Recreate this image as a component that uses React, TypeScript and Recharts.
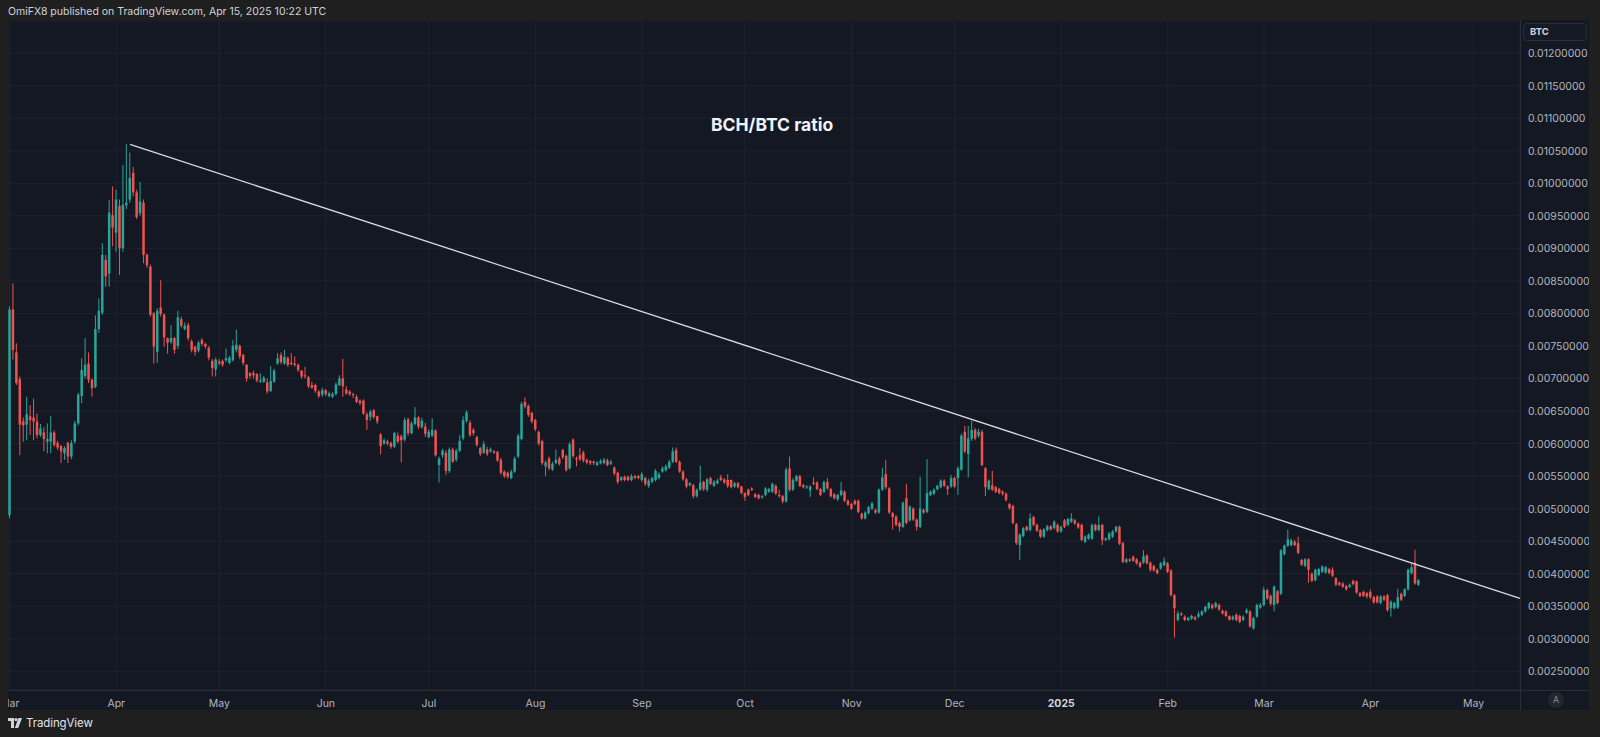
import React from 'react'
import { ComposedChart, Bar, XAxis, YAxis, CartesianGrid, ReferenceLine } from 'recharts'

// prices are stored in units of 0.00001 BTC, one entry per daily candle from 1 Mar 2024
const UNIT = 1e-5
const START_UTC = Date.UTC(2024, 2, 1)

const opens = [
  490, 806, 740, 699, 634, 629, 642, 640, 634, 613,
  617, 603, 603, 617, 601, 596, 585, 601, 580, 603,
  631, 673, 704, 723, 698, 687, 776, 801, 882, 861,
  951, 924, 965, 900, 966, 975, 1016, 986, 954, 970,
  890, 872, 800, 741, 809, 798, 762, 756, 762, 750,
  791, 776, 782, 757, 749, 743, 759, 753, 747, 727,
  714, 726, 727, 728, 724, 728, 744, 750, 736, 721,
  708, 708, 707, 695, 695, 694, 681, 695, 723, 736,
  723, 731, 724, 723, 721, 712, 705, 702, 690, 690,
  680, 675, 682, 673, 672, 676, 690, 700, 683, 680,
  676, 672, 666, 666, 645, 641, 651, 642, 614, 600,
  603, 601, 595, 612, 611, 606, 637, 616, 630, 640,
  625, 626, 610, 612, 620, 567, 582, 586, 558, 591,
  575, 589, 608, 635, 632, 621, 610, 593, 586, 591,
  588, 588, 587, 575, 557, 555, 547, 557, 580, 607,
  664, 658, 647, 636, 618, 604, 565, 577, 560, 570,
  577, 590, 581, 562, 606, 577, 582, 586, 575, 573,
  572, 567, 570, 570, 574, 569, 563, 555, 544, 549,
  549, 544, 550, 550, 544, 547, 535, 541, 544, 547,
  557, 559, 563, 572, 590, 572, 557, 545, 536, 536,
  519, 529, 541, 529, 547, 535, 539, 548, 545, 544,
  544, 534, 539, 534, 524, 529, 531, 522, 521, 517,
  521, 526, 526, 535, 521, 519, 511, 562, 529, 543,
  550, 536,
  533,
  528, 540, 540, 530, 526, 541, 530, 522,
  514, 521, 526, 512, 507, 512, 512, 492, 485, 493,
  500, 498, 494, 529, 553, 531, 493, 488, 478, 472,
  516, 482, 500, 483, 472, 498, 495, 521, 523, 530,
  533, 543, 534,
  534, 547, 547, 560, 618, 584, 607,
  621, 612, 618, 562, 530, 536, 533, 530, 526, 523,
  507, 504, 476, 444, 458, 472, 467, 487, 475, 467,
  457, 467, 473, 470, 475, 465, 482, 475, 480, 482,
  477, 475, 449, 454, 454, 475, 467, 475, 452, 453,
  457, 465, 472, 447, 418, 422, 426, 422, 417, 417,
  428, 417, 412, 406, 408, 413, 416, 405, 367, 329,
  339, 334,
  329,
  331, 333, 334,
  337, 342, 347, 352, 349, 352, 343, 342, 335, 330,
  337, 335, 329, 340, 342, 316, 334, 348, 352, 375,
  366, 352, 373, 369, 430, 443, 444, 449, 447, 421,
  412, 422, 400, 390, 398, 403, 402, 407, 406, 393,
  386, 385, 381, 380, 389, 388, 370, 372, 370, 372,
  364, 365, 355, 365, 367, 347, 347, 348, 369, 366,
  376, 401, 417, 383,
]

const highs = [
  811, 846, 754, 703, 640, 672, 659, 669, 646, 630,
  625, 631, 642, 620, 604, 598, 596, 603, 605, 635,
  678, 731, 762, 740, 700, 797, 823, 908, 890, 974,
  995, 990, 975, 1028, 1060, 1047, 1025, 990, 1002, 975,
  892, 875, 802, 808, 851, 800, 763, 782, 764, 804,
  795, 786, 786, 760, 750, 758, 762, 755, 750, 730,
  732, 730, 729, 746, 735, 759, 775, 752, 738, 722,
  710, 712, 708, 708, 704, 700, 719, 715, 739, 740,
  744, 734, 739, 734, 723, 713, 718, 704, 695, 692,
  682, 686, 684, 680, 679, 694, 705, 730, 688, 682,
  678, 675, 668, 668, 648, 652, 653, 643, 616, 608,
  606, 603, 618, 617, 614, 640, 640, 634, 656, 642,
  640, 632, 622, 639, 622, 580, 592, 590, 594, 594,
  592, 613, 642, 651, 636, 624, 612, 595, 604, 595,
  594, 590, 589, 578, 559, 557, 560, 580, 615, 664,
  671, 660, 649, 638, 620, 606, 574, 580, 572, 591,
  580, 592, 583, 602, 608, 580, 593, 589, 577, 575,
  574, 573, 576, 578, 577, 575, 565, 557, 550, 551,
  551, 553, 552, 552, 556, 549, 546, 549, 561, 556,
  565, 568, 575, 594, 594, 574, 559, 547, 541, 538,
  531, 566, 543, 547, 549, 544, 546, 552, 547, 553,
  545, 541, 541, 535, 525, 531, 533, 524, 523, 521,
  533, 532, 540, 537, 529, 521, 563, 580, 547, 552,
  552, 538,
  536,
  536, 548, 542, 532, 543, 547, 532, 524,
  523, 541, 528, 514, 509, 514, 514, 494, 496, 504,
  510, 500, 531, 563, 575, 533, 495, 490, 480, 511,
  538, 505, 502, 485, 549, 500, 576, 528, 531, 537,
  545, 545, 536,
  552, 549, 565, 615, 627, 627, 635,
  624, 623, 621, 564, 545, 558, 535, 532, 528, 525,
  509, 506, 478, 462, 472, 474, 493, 489, 477, 469,
  470, 475, 475, 482, 477, 474, 484, 486, 493, 484,
  479, 477, 459, 462, 477, 477, 488, 477, 456, 464,
  467, 474, 474, 449, 424, 424, 428, 424, 419, 436,
  430, 419, 414, 408, 418, 425, 418, 407, 369, 343,
  341, 336,
  334,
  337, 335, 342,
  344, 351, 357, 354, 357, 354, 345, 344, 336, 336,
  339, 337, 336, 347, 344, 334, 354, 355, 380, 377,
  368, 382, 375, 438, 445, 468, 454, 452, 457, 423,
  424, 424, 402, 408, 409, 413, 412, 409, 410, 395,
  388, 387, 383, 385, 391, 390, 372, 374, 372, 376,
  366, 367, 367, 367, 369, 359, 357, 377, 371, 378,
  408, 415, 437, 392,
]

const lows = [
  485, 729, 690, 582, 603, 605, 613, 605, 608, 610,
  588, 585, 585, 595, 590, 570, 575, 570, 576, 600,
  628, 662, 700, 693, 672, 685, 770, 798, 841, 841,
  903, 895, 859, 895, 960, 970, 980, 945, 950, 877,
  870, 795, 723, 724, 795, 749, 738, 753, 738, 745,
  778, 774, 758, 740, 735, 740, 750, 746, 728, 703,
  703, 720, 718, 725, 722, 726, 740, 730, 720, 695,
  700, 700, 694, 693, 693, 677, 679, 693, 721, 722,
  721, 718, 720, 718, 710, 700, 700, 685, 684, 678,
  670, 672, 673, 671, 670, 674, 688, 672, 675, 673,
  670, 662, 659, 644, 621, 635, 638, 630, 583, 598,
  597, 592, 593, 600, 571, 603, 612, 614, 628, 622,
  623, 610, 608, 610, 580, 540, 578, 552, 555, 570,
  572, 587, 605, 632, 610, 612, 595, 581, 584, 581,
  586, 584, 572, 552, 547, 546, 545, 555, 578, 605,
  654, 641, 631, 619, 597, 567, 550, 559, 558, 568,
  566, 576, 557, 560, 578, 565, 573, 571, 568, 567,
  567, 565, 568, 568, 565, 567, 551, 538, 542, 542,
  542, 542, 545, 545, 541, 535, 532, 539, 542, 545,
  555, 557, 561, 570, 570, 555, 543, 531, 534, 516,
  517, 527, 527, 526, 536, 533, 537, 542, 538, 532,
  531, 532, 531, 522, 512, 519, 527, 516, 514, 515,
  519, 524, 524, 521, 517, 508, 509, 526, 527, 541,
  533, 531,
  530,
  518, 536, 528, 519, 524, 529, 517, 514,
  512, 519, 510, 504, 498, 505, 493, 483, 483, 491,
  498, 492, 492, 527, 530, 492, 468, 473, 465, 470,
  476, 480, 481, 466, 470, 492, 493, 519, 521, 528,
  531, 533, 521,
  532, 532, 521, 558, 585, 548, 604,
  605, 609, 565, 519, 528, 527, 524, 522, 520, 511,
  498, 476, 444, 421, 456, 465, 465, 473, 464, 455,
  455, 465, 466, 468, 463, 463, 470, 473, 478, 475,
  469, 450, 447, 452, 452, 465, 465, 444, 450, 451,
  455, 463, 444, 416, 416, 418, 418, 414, 409, 415,
  414, 403, 403, 399, 406, 411, 401, 365, 302, 327,
  335, 327,
  327,
  329, 328, 332,
  335, 340, 345, 345, 347, 343, 337, 333, 328, 328,
  327, 324, 327, 338, 317, 314, 332, 346, 350, 360,
  351, 342, 353, 367, 428, 441, 442, 442, 430, 412,
  410, 386, 387, 388, 396, 401, 400, 399, 395, 381,
  381, 378, 374, 378, 382, 369, 364, 364, 362, 361,
  354, 354, 353, 358, 342, 334, 345, 346, 358, 364,
  374, 399, 383, 381,
]

const closes = [
  806, 744, 693, 629, 628, 645, 636, 634, 613, 623,
  607, 607, 617, 598, 594, 588, 593, 580, 601, 631,
  675, 713, 721, 698, 685, 776, 804, 890, 857, 955,
  932, 975, 900, 967, 970, 1008, 986, 948, 972, 890,
  874, 798, 749, 804, 799, 763, 755, 762, 744, 794,
  781, 781, 762, 744, 741, 755, 753, 749, 732, 716,
  729, 723, 721, 731, 732, 750, 752, 734, 724, 700,
  704, 705, 697, 697, 701, 680, 696, 712, 731, 725,
  733, 721, 722, 721, 713, 703, 703, 688, 686, 681,
  673, 682, 676, 677, 676, 691, 700, 688, 677, 676,
  675, 664, 662, 646, 636, 649, 641, 634, 596, 605,
  600, 595, 616, 603, 605, 636, 616, 631, 640, 626,
  635, 615, 618, 621, 582, 577, 589, 558, 591, 572,
  589, 604, 636, 648, 613, 616, 598, 584, 599, 584,
  591, 586, 574, 555, 550, 549, 557, 577, 612, 661,
  657, 644, 634, 622, 600, 570, 571, 562, 569, 575,
  569, 579, 559, 599, 581, 575, 576, 574, 571, 570,
  570, 571, 573, 575, 567, 572, 554, 541, 548, 544,
  544, 550, 547, 547, 553, 538, 543, 547, 558, 553,
  562, 565, 572, 588, 572, 557, 545, 534, 539, 519,
  529, 540, 530, 545, 538, 541, 543, 544, 540, 535,
  533, 539, 533, 524, 518, 521, 529, 518, 516, 519,
  531, 530, 538, 523, 519, 511, 560, 529, 544, 550,
  535, 533,
  534,
  534, 538, 530, 521, 541, 531, 519, 516,
  521, 528, 512, 506, 500, 507, 495, 485, 494, 502,
  508, 494, 529, 548, 533, 494, 487, 475, 472, 509,
  478, 503, 483, 472, 500, 494, 524, 526, 529, 535,
  543, 535, 530,
  547, 534, 562, 612, 588, 608, 621,
  608, 618, 567, 533, 543, 529, 526, 524, 523, 513,
  501, 478, 447, 460, 470, 467, 485, 475, 466, 457,
  468, 473, 468, 480, 465, 472, 472, 484, 485, 477,
  471, 452, 457, 460, 475, 467, 475, 452, 454, 462,
  465, 472, 446, 418, 422, 420, 420, 416, 411, 427,
  416, 406, 405, 401, 416, 419, 403, 367, 347, 339,
  337, 329,
  332,
  335, 330, 338,
  342, 349, 355, 347, 355, 345, 339, 335, 329, 334,
  329, 326, 334, 344, 319, 332, 352, 352, 375, 362,
  354, 380, 355, 436, 443, 453, 451, 444, 432, 414,
  422, 406, 389, 406, 407, 411, 410, 401, 397, 383,
  383, 380, 376, 383, 384, 371, 366, 366, 365, 364,
  356, 356, 365, 360, 344, 357, 355, 364, 360, 376,
  406, 410, 385, 390,
]

// day index (from 1 Mar 2024) of each month start shown on the time scale
const monthTicks = [0, 31, 61, 92, 122, 153, 184, 214, 245, 275, 306, 337, 365, 396, 426]
const monthLabels = ['Mar', 'Apr', 'May', 'Jun', 'Jul', 'Aug', 'Sep', 'Oct', 'Nov', 'Dec', '2025', 'Feb', 'Mar', 'Apr', 'May']

const priceTicks = [
  0.0025, 0.003, 0.0035, 0.004, 0.0045, 0.005, 0.0055, 0.006, 0.0065, 0.007,
  0.0075, 0.008, 0.0085, 0.009, 0.0095, 0.01, 0.0105, 0.011, 0.0115, 0.012,
]

// hand drawn trend line: from the April 2024 high to the right edge of the chart
const trendLine = [
  { day: 35, price: 0.010596 },
  { day: 439.5, price: 0.00362 },
]

const X_DOMAIN: [number, number] = [-0.5, 439.5]
const Y_DOMAIN: [number, number] = [0.002213, 0.012493]

const UP = '#26a69a'
const DOWN = '#ef5350'
const FONT = 'Inter, "Noto Sans", Roboto, sans-serif'

const n = Math.min(opens.length, highs.length, lows.length, closes.length)
const candles = Array.from({ length: n }, (_, i) => ({
  day: i,
  date: new Date(START_UTC + i * 86400000).toISOString().slice(0, 10),
  open: opens[i] * UNIT,
  high: highs[i] * UNIT,
  low: lows[i] * UNIT,
  close: closes[i] * UNIT,
  range: [lows[i] * UNIT, highs[i] * UNIT],
}))

function Candle(props: any) {
  const { x, y, width, height, payload } = props
  if (!payload || y == null || height == null) return null
  const { open, close, high, low } = payload
  const color = close >= open ? UP : DOWN
  const span = high - low
  const k = span > 0 ? height / span : 0
  const yOpen = y + (high - open) * k
  const yClose = y + (high - close) * k
  const cx = x + width / 2
  const top = Math.min(yOpen, yClose)
  const bodyH = Math.max(1, Math.abs(yOpen - yClose))
  return (
    <g>
      <line x1={cx} x2={cx} y1={y} y2={y + height} stroke={color} strokeWidth={1} />
      <rect x={cx - 1.25} y={top} width={2.5} height={bodyH} fill={color} />
    </g>
  )
}

function TimeTick(props: any) {
  const { x, y, payload } = props
  const idx = monthTicks.indexOf(payload.value)
  const label = idx >= 0 ? monthLabels[idx] : ''
  const bold = label === '2025'
  return (
    <text
      x={x}
      y={y + 9}
      textAnchor="middle"
      fill={bold ? '#d1d4dc' : '#b2b5be'}
      fontSize={10.5}
      fontWeight={bold ? 700 : 400}
      fontFamily={FONT}
    >
      {label}
    </text>
  )
}

function PriceTick(props: any) {
  const { x, y, payload } = props
  return (
    <text x={x} y={y + 4} textAnchor="start" fill="#b2b5be" fontSize={10.5} fontFamily={FONT}>
      {Number(payload.value).toFixed(8)}
    </text>
  )
}

function Logo() {
  return (
    <svg width={14} height={10} viewBox="0 0 14 10" style={{ display: 'block' }}>
      <path d="M0 0h6v10H3V3H0z" fill="#d1d4dc" />
      <circle cx={8} cy={1.6} r={1.6} fill="#d1d4dc" />
      <path d="M10.5 0H14L10.2 10H6.8z" fill="#d1d4dc" />
    </svg>
  )
}

export default function App() {
  return (
    <div
      style={{
        position: 'relative',
        width: 1600,
        height: 737,
        background: '#1f1f1f',
        fontFamily: FONT,
        overflow: 'hidden',
      }}
    >
      <style>{'body{margin:0;background:#1f1f1f}'}</style>
      <div style={{ position: 'absolute', left: 8, top: 5, fontSize: 10.5, color: '#d1d4dc', whiteSpace: 'nowrap' }}>
        OmiFX8 published on TradingView.com, Apr 15, 2025 10:22 UTC
      </div>

      <div
        style={{
          position: 'absolute',
          left: 8,
          top: 20,
          width: 1581,
          height: 690,
          background: '#141823',
          overflow: 'hidden',
        }}
      >
        <ComposedChart
          width={1581}
          height={690}
          data={candles}
          margin={{ top: 1, right: 0, bottom: 0, left: 0 }}
        >
          <CartesianGrid stroke="#1f2330" strokeWidth={1} />
          <XAxis
            dataKey="day"
            type="number"
            domain={X_DOMAIN}
            allowDataOverflow
            ticks={monthTicks}
            interval={0}
            height={20}
            axisLine={false}
            tickLine={false}
            tick={<TimeTick />}
          />
          <YAxis
            orientation="right"
            type="number"
            domain={Y_DOMAIN}
            allowDataOverflow
            ticks={priceTicks}
            interval={0}
            width={69}
            axisLine={false}
            tickLine={false}
            tick={<PriceTick />}
          />
          <Bar dataKey="range" shape={Candle} isAnimationActive={false} barSize={3} />
          <ReferenceLine
            segment={trendLine.map((p) => ({ x: p.day, y: p.price }))}
            stroke="#d8dbe3"
            strokeWidth={1.3}
            ifOverflow="visible"
          />
        </ComposedChart>

        <div style={{ position: 'absolute', left: 1512, top: 0, width: 1, height: 690, background: '#2a2e39' }} />
        <div style={{ position: 'absolute', left: 0, top: 670, width: 1581, height: 1, background: '#2a2e39' }} />

        <div
          style={{
            position: 'absolute',
            left: 703,
            top: 94,
            fontSize: 17.5,
            fontWeight: 700,
            color: '#f0f3fa',
            whiteSpace: 'nowrap',
          }}
        >
          BCH/BTC ratio
        </div>

        <div
          style={{
            position: 'absolute',
            left: 1515,
            top: 3,
            width: 64,
            height: 18,
            boxSizing: 'border-box',
            border: '1px solid #2a2e39',
            borderRadius: 4,
            background: '#161a25',
            color: '#d1d4dc',
            fontSize: 9.5,
            fontWeight: 700,
            lineHeight: '16px',
            paddingLeft: 6,
          }}
        >
          BTC
        </div>

        <div
          style={{
            position: 'absolute',
            left: 1540,
            top: 672,
            width: 16,
            height: 16,
            borderRadius: 8,
            background: '#22262f',
            color: '#8a8d96',
            fontSize: 9,
            textAlign: 'center',
            lineHeight: '16px',
          }}
        >
          A
        </div>
      </div>

      <div style={{ position: 'absolute', left: 8, top: 716, display: 'flex', alignItems: 'center', gap: 4 }}>
        <Logo />
        <span style={{ fontSize: 11.5, color: '#e0e3eb', letterSpacing: -0.1 }}>TradingView</span>
      </div>
    </div>
  )
}
